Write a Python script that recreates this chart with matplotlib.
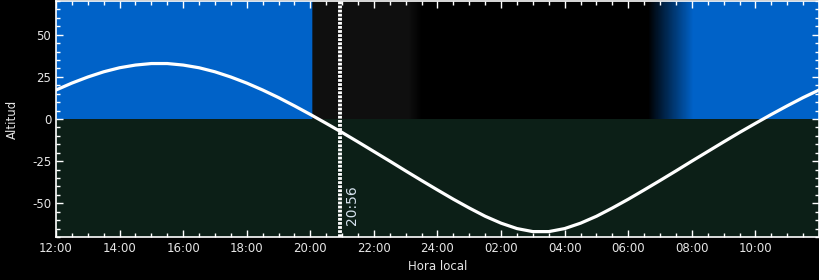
import numpy as np
import matplotlib
matplotlib.use('Agg')
import matplotlib.pyplot as plt
from matplotlib.ticker import MultipleLocator

# hours after 12:00 local time
hours = np.arange(0, 24.5, 0.5)
altitude = [17.2, 21.3, 24.9, 28.0, 30.4, 32.0, 32.9, 32.9, 32.0, 30.4,
            28.0, 24.9, 21.3, 17.2, 12.7, 7.8, 2.7, -2.6, -8.0, -13.6,
            -19.3, -25.0, -30.8, -36.5, -42.1, -47.6, -52.8, -57.7, -61.8, -65.0,
            -66.8, -66.8, -65.0, -61.8, -57.7, -52.8, -47.6, -42.1, -36.5, -30.8,
            -25.0, -19.3, -13.6, -8.0, -2.6, 2.7, 7.8, 12.7, 17.2]

# sky colour over the day (hours after noon)
sky_times = [0.0, 8.06, 8.07, 11.1, 11.5, 18.63, 20.05, 24.0]
sky_colors = ['#0062c8', '#0062c8', '#0f0f0f', '#0f0f0f', '#000000', '#000000', '#0062c8', '#0062c8']

now_hour = 8.933  # 20:56
now_label = '20:56'

tick_hours = list(range(0, 24, 2))
tick_labels = ['12:00', '14:00', '16:00', '18:00', '20:00', '22:00',
               '24:00', '02:00', '04:00', '06:00', '08:00', '10:00']

GROUND = '#0c1f17'
FG = '#e6e6e6'

plt.rcParams['axes.unicode_minus'] = False

fig = plt.figure(figsize=(8.2, 2.8), dpi=100, facecolor='black')
ax = fig.add_axes([56 / 820, 43 / 280, 763 / 820, 236 / 280])
ax.set_facecolor('black')

# sky band above the horizon
grid = np.linspace(0, 24, 1441)
rgb = np.array([matplotlib.colors.to_rgb(c) for c in sky_colors])
band = np.stack([np.interp(grid, sky_times, rgb[:, k]) for k in range(3)], axis=-1)
ax.imshow(band[np.newaxis, :, :], extent=[0, 24, 0, 70], aspect='auto',
          interpolation='nearest', zorder=0)
ax.axhspan(-70, 0, color=GROUND, lw=0, zorder=0)

ax.plot(hours, altitude, color='white', lw=2.3, solid_capstyle='round', zorder=3)

ax.axvline(now_hour, color='white', lw=2.8, ls=(0, (0.7, 0.35)), zorder=4)
ax.text(now_hour + 0.38, -63, now_label, rotation=90, ha='center', va='bottom',
        color='#d6e2ee', fontsize=10, zorder=5)

ax.set_xlim(0, 24)
ax.set_ylim(-70, 70)
ax.set_xticks(tick_hours)
ax.set_xticklabels(tick_labels)
ax.xaxis.set_minor_locator(MultipleLocator(0.5))
ax.set_yticks([-50, -25, 0, 25, 50])
ax.yaxis.set_minor_locator(MultipleLocator(5))

ax.tick_params(which='both', direction='in', top=True, right=True,
               colors='white', labelcolor=FG, labelsize=8.5)
ax.tick_params(which='major', length=5, width=1)
ax.tick_params(which='minor', length=3, width=1)
for s in ax.spines.values():
    s.set_color('white')
    s.set_linewidth(1.2)

ax.set_xlabel('Hora local', color=FG, fontsize=8.5, labelpad=4)
ax.set_ylabel('Altitud', color=FG, fontsize=8.5, labelpad=9)

fig.savefig('out.png', dpi=100, facecolor='black')
